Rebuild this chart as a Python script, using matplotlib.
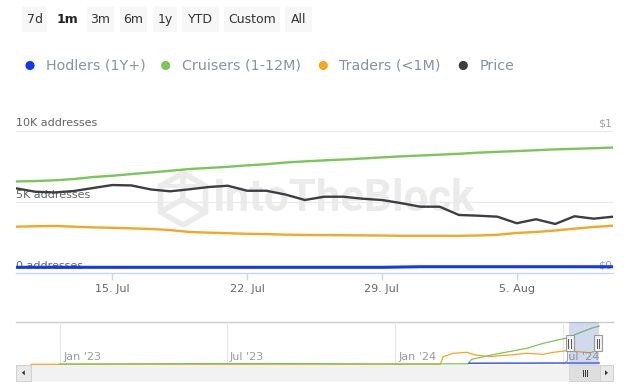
import numpy as np
import pandas as pd
import matplotlib
matplotlib.use('Agg')
import matplotlib.pyplot as plt
import matplotlib.dates as mdates
from matplotlib.patches import Rectangle, Circle, FancyBboxPatch, Polygon

# ---------------- data ----------------
dates = pd.date_range('2024-07-10', '2024-08-10', freq='D')

hodlers = [0.42] * 20 + [0.44] + [0.46] * 11

cruisers = [6.44, 6.47, 6.52, 6.61, 6.75, 6.84, 6.96, 7.07, 7.19, 7.31,
            7.39, 7.47, 7.57, 7.65, 7.77, 7.85, 7.92, 7.98, 8.05, 8.13,
            8.20, 8.26, 8.32, 8.38, 8.46, 8.52, 8.57, 8.63, 8.69, 8.73,
            8.77, 8.82]

traders = [3.27, 3.30, 3.32, 3.27, 3.22, 3.19, 3.15, 3.11, 3.03, 2.90,
           2.85, 2.81, 2.77, 2.75, 2.71, 2.69, 2.68, 2.67, 2.66, 2.65,
           2.63, 2.63, 2.63, 2.63, 2.65, 2.70, 2.83, 2.90, 3.00, 3.13,
           3.25, 3.34]

price = [0.596, 0.572, 0.567, 0.577, 0.598, 0.619, 0.616, 0.588, 0.575, 0.589,
         0.605, 0.614, 0.579, 0.579, 0.552, 0.514, 0.537, 0.537, 0.523, 0.514,
         0.492, 0.467, 0.467, 0.409, 0.404, 0.397, 0.351, 0.379, 0.346, 0.400,
         0.383, 0.397]

tick_dates = ['2024-07-15', '2024-07-22', '2024-07-29', '2024-08-05']
tick_labels = ['15. Jul', '22. Jul', '29. Jul', '5. Aug']

# navigator (overview) series
nav_cru_dates = ['2022-12-31', '2023-03-01', '2023-06-01', '2023-09-01', '2023-12-01',
                 '2024-03-20', '2024-03-24', '2024-04-06', '2024-04-24', '2024-05-23',
                 '2024-06-10', '2024-07-06', '2024-07-20', '2024-08-02', '2024-08-10']
nav_cru_vals = [0.10, 0.15, 0.20, 0.22, 0.15,
                0.15, 1.19, 1.79, 2.57, 3.72,
                4.86, 6.10, 7.30, 8.35, 8.82]

nav_tra_dates = ['2022-11-30', '2023-06-01', '2024-02-19', '2024-02-22', '2024-03-04',
                 '2024-03-19', '2024-03-23', '2024-03-28', '2024-04-13', '2024-04-24',
                 '2024-05-05', '2024-05-23', '2024-06-10', '2024-06-21', '2024-07-06',
                 '2024-07-20', '2024-07-31', '2024-08-10']
nav_tra_vals = [0.05, 0.05, 0.05, 1.79, 2.57,
                2.80, 2.50, 2.18, 1.79, 2.02,
                2.18, 2.57, 2.34, 2.80, 3.17,
                2.90, 2.70, 3.30]

nav_hod_dates = ['2024-03-21', '2024-08-10']
nav_hod_vals = [0.30, 0.35]

nav_tick_dates = ['2023-01-01', '2023-07-01', '2024-01-01', '2024-07-01']
nav_tick_labels = ["Jan '23", "Jul '23", "Jan '24", "Jul '24"]

buttons = ['7d', '1m', '3m', '6m', '1y', 'YTD', 'Custom', 'All']
series_names = ['Hodlers (1Y+)', 'Cruisers (1-12M)', 'Traders (<1M)', 'Price']

# ---------------- style ----------------
C_BLUE = '#1238f0'
C_GREEN = '#7cc557'
C_ORANGE = '#f5a623'
C_BLACK = '#3b3e42'
colors = [C_BLUE, C_GREEN, C_ORANGE, C_BLACK]

W, H = 643, 389
fig = plt.figure(figsize=(W / 100, H / 100), dpi=100)
fig.patch.set_facecolor('white')


def fx(px):
    return px / W


def fy(py):
    return 1 - py / H


bg = fig.add_axes([0, 0, 1, 1], zorder=0)
bg.set_xlim(0, W)
bg.set_ylim(H, 0)
bg.axis('off')

fg = fig.add_axes([0, 0, 1, 1], zorder=5)
fg.set_xlim(0, W)
fg.set_ylim(H, 0)
fg.axis('off')
fg.patch.set_alpha(0)

# ---- range buttons ----
btn_x = [(22, 47), (53, 82), (87, 114), (120, 147), (153, 177), (182, 219), (224, 280), (285, 312)]
for (x0, x1), lab in zip(btn_x, buttons):
    sel = lab == '1m'
    if not sel:
        bg.add_patch(FancyBboxPatch((x0, 6), x1 - x0, 26,
                                    boxstyle='round,pad=0,rounding_size=2',
                                    fc='#f7f7f7', ec='none'))
    bg.text((x0 + x1) / 2, 19.5, lab, ha='center', va='center', fontsize=9,
            color='#222222' if sel else '#333333',
            fontweight='bold' if sel else 'normal')

# ---- legend ----
leg_dot_x = [30, 165.7, 323.3, 463.3]
leg_txt_x = [45.7, 182, 339, 480]
for dx, tx, name, c in zip(leg_dot_x, leg_txt_x, series_names, colors):
    bg.add_patch(Circle((dx, 65.5), 4.6, fc=c, ec='none'))
    bg.text(tx, 65.5, name, ha='left', va='center', fontsize=10.3, color='#8793a0')

# ---- watermark ----
bg.text(344, 199, 'IntoTheBlock', ha='center', va='center', fontsize=31.5,
        fontweight='bold', family='Roboto', color='#ebebeb')
cx, cy, r = 183, 199, 26
ang = np.deg2rad(90 + 60 * np.arange(6))
hx = cx + r * np.cos(ang)
hy = cy - r * np.sin(ang)
bg.add_patch(Polygon(np.column_stack([hx, hy]), closed=True, fill=False,
                     ec='#ebebeb', lw=4, joinstyle='round'))
for k in (0, 2, 4):
    bg.plot([cx, hx[k]], [cy, hy[k]], color='#ebebeb', lw=4, solid_capstyle='round')
bg.plot([hx[1], hx[5]], [hy[1], hy[5]], color='#ebebeb', lw=3)

# ---------------- main chart ----------------
ax = fig.add_axes([fx(16), fy(273.3), fx(613) - fx(16), fy(130.7) - fy(273.3)], zorder=2)
ax.patch.set_alpha(0)
ax.set_xlim(pd.Timestamp('2024-07-10'), pd.Timestamp('2024-08-10'))
ax.set_ylim(0, 10)

for v in (5, 10):
    ax.axhline(v, color='#e9e9e9', lw=0.8, zorder=0)

ax.plot(dates, hodlers, color=C_BLUE, lw=2.2, solid_capstyle='butt', zorder=3)
ax.plot(dates, cruisers, color=C_GREEN, lw=1.7, solid_joinstyle='round', zorder=3)
ax.plot(dates, traders, color=C_ORANGE, lw=1.7, solid_joinstyle='round', zorder=3)

ax2 = ax.twinx()
ax2.set_ylim(0, 1)
ax2.plot(dates, price, color=C_BLACK, lw=1.7, solid_joinstyle='round', zorder=4)
for sp in ax2.spines.values():
    sp.set_visible(False)
ax2.set_yticks([])

for name, sp in ax.spines.items():
    sp.set_visible(name == 'bottom')
ax.spines['bottom'].set_color('#ccd6eb')
ax.spines['bottom'].set_linewidth(1)
ax.set_yticks([])
ax.set_xticks(pd.to_datetime(tick_dates))
ax.set_xticklabels(tick_labels)
ax.tick_params(axis='x', length=5, width=1, color='#ccd6eb', pad=2.5,
               labelsize=8, labelcolor='#666666')

ylab = {0: '0 addresses', 5: '5K addresses', 10: '10K addresses'}
rlab = {0: '$0', 5: '', 10: '$1'}
for v in (0, 5, 10):
    ax.annotate(ylab[v], xy=(0, v), xycoords=ax.get_yaxis_transform(),
                xytext=(0, 7.5), textcoords='offset pixels', ha='left', va='center',
                fontsize=8, color='#5f6368', zorder=1)
    if rlab[v]:
        ax.annotate(rlab[v], xy=(1, v), xycoords=ax.get_yaxis_transform(),
                    xytext=(-1, 7.5), textcoords='offset pixels', ha='right', va='center',
                    fontsize=8, color='#9aa3ab', zorder=1)

# ---------------- navigator ----------------
nav = fig.add_axes([fx(16), fy(364.5), fx(613) - fx(16), fy(322.3) - fy(364.5)], zorder=1)
nav.patch.set_alpha(0)
nav.set_xlim(pd.Timestamp('2022-11-13 17:00'), pd.Timestamp('2024-08-25'))
nav.set_ylim(0, 9.68)
nav.axis('off')
for d, lab in zip(pd.to_datetime(nav_tick_dates), nav_tick_labels):
    nav.axvline(d, color='#e6e6e6', lw=0.8, zorder=0)
    nav.annotate(lab, xy=(mdates.date2num(d), 0.185), xycoords=nav.get_xaxis_transform(),
                 xytext=(3, 0), textcoords='offset pixels', ha='left', va='center',
                 fontsize=8, color='#999999')
nav.plot(pd.to_datetime(nav_tra_dates), nav_tra_vals, color=C_ORANGE, lw=0.9)
nav.plot(pd.to_datetime(nav_cru_dates), nav_cru_vals, color=C_GREEN, lw=0.9)
nav.plot(pd.to_datetime(nav_hod_dates), nav_hod_vals, color=C_BLUE, lw=0.9)

bg.plot([16, 613], [322.3, 322.3], color='#cccccc', lw=1)

# scrollbar
bg.add_patch(Rectangle((16, 365), 597, 15.7, fc='#f2f2f2', ec='#f2f2f2', lw=0.5))
bg.add_patch(Rectangle((16, 365), 14.7, 15.7, fc='#e9e9e9', ec='#cccccc', lw=0.6))
bg.add_patch(Polygon([(21.8, 372.8), (24.8, 370.3), (24.8, 375.3)], closed=True, fc='#333333', ec='none'))
bg.add_patch(Rectangle((600, 365), 13, 15.7, fc='#e9e9e9', ec='#cccccc', lw=0.6))
bg.add_patch(Polygon([(608.0, 372.8), (605.0, 370.3), (605.0, 375.3)], closed=True, fc='#333333', ec='none'))
bg.add_patch(Rectangle((569, 365), 31, 15.7, fc='#dedede', ec='#d0d0d0', lw=0.5))
for xx in (582.5, 584.5, 586.5):
    bg.plot([xx, xx], [369.5, 376], color='#333333', lw=0.7)

# selection mask and handles
fg.add_patch(Rectangle((569, 322.3), 30, 42.2, fc='#6685c2', alpha=0.3, ec='none'))
for hx0, lines in ((565.7, (568.3, 570.5)), (594.3, (597.0, 599.2))):
    fg.add_patch(Rectangle((hx0, 335), 7.8, 16, fc='#f2f2f2', ec='#999999', lw=0.8))
    for xx in lines:
        fg.plot([xx, xx], [339, 347.5], color='#555555', lw=0.7)

fig.savefig('out.png', dpi=100, facecolor='white')
